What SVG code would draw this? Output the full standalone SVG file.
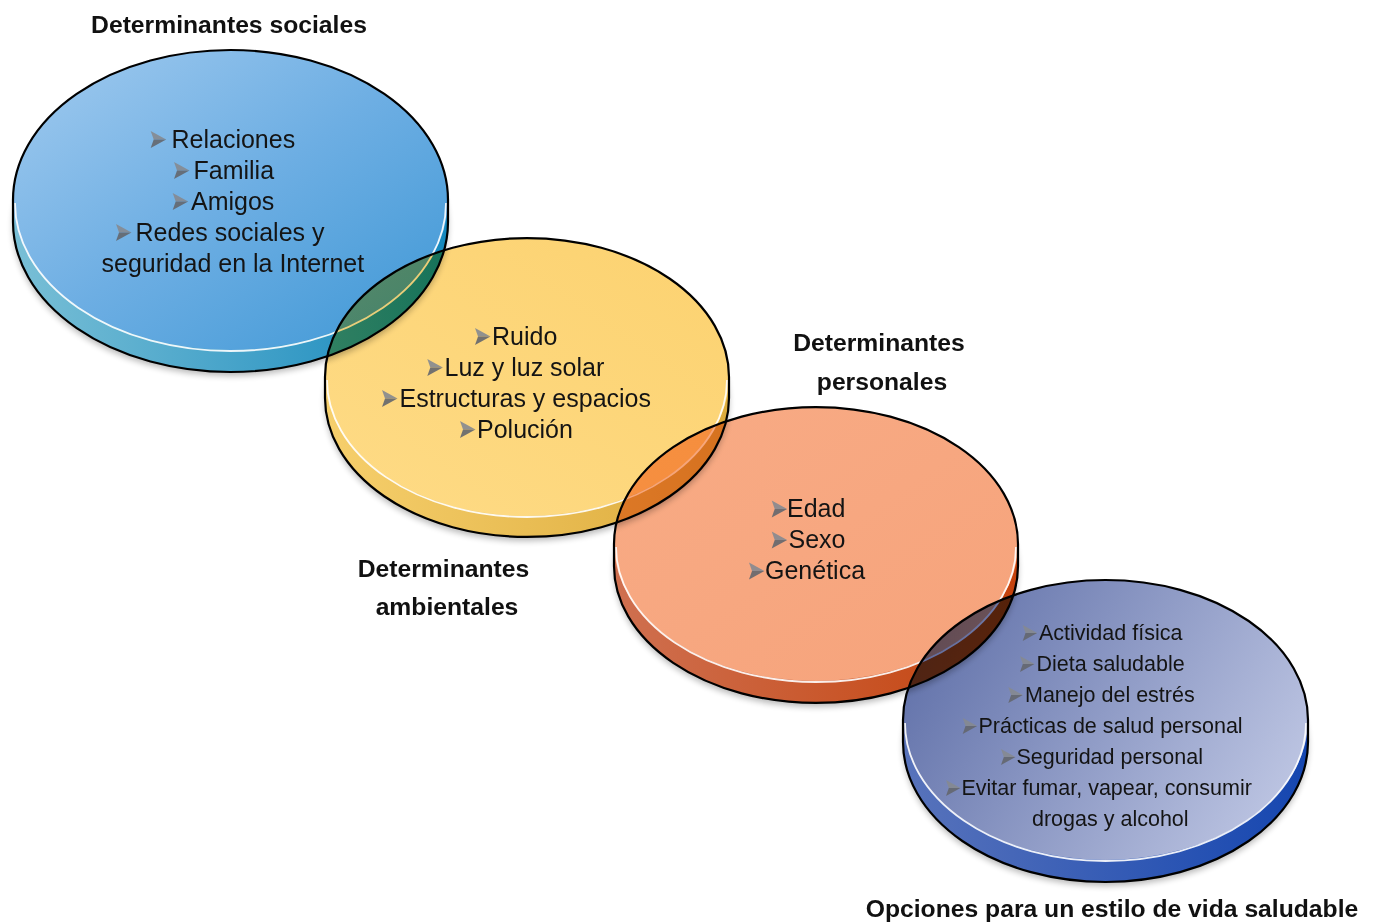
<svg xmlns="http://www.w3.org/2000/svg" xmlns:xlink="http://www.w3.org/1999/xlink" width="1380" height="922" viewBox="0 0 1380 922">
<style>
.t{font-family:"Liberation Sans",Arial,Helvetica,sans-serif;font-size:25px;fill:#141414}
.s{font-size:21.5px}
.lab{font-family:"Liberation Sans",Arial,Helvetica,sans-serif;font-size:24.7px;font-weight:bold;fill:#111}
.blend{mix-blend-mode:multiply}
.ol{fill:none;stroke:#000;stroke-width:2.2}
.hl{fill:none;stroke:#fff;stroke-width:1.8;opacity:0.9}
.sh{fill:#000;opacity:0.28;filter:url(#blur)}
</style>
<defs>
<filter id="blur" x="-10%" y="-20%" width="120%" height="140%"><feGaussianBlur stdDeviation="3"/></filter>
<linearGradient id="bTop" x1="0" y1="0" x2="1" y2="1"><stop offset="0" stop-color="#a2cbef"/><stop offset="0.5" stop-color="#6daee3"/><stop offset="1" stop-color="#3d97d5"/></linearGradient>
<linearGradient id="bSide" x1="0" y1="0" x2="1" y2="0"><stop offset="0" stop-color="#79bfd6"/><stop offset="1" stop-color="#1588bd"/></linearGradient>
<linearGradient id="yTop" x1="0" y1="1" x2="1" y2="0"><stop offset="0" stop-color="#fedb86"/><stop offset="1" stop-color="#fcd270"/></linearGradient>
<linearGradient id="ySide" x1="0" y1="0" x2="1" y2="0"><stop offset="0" stop-color="#f6cf6c"/><stop offset="1" stop-color="#dcab3c"/></linearGradient>
<linearGradient id="oTop" x1="0" y1="0" x2="1" y2="1"><stop offset="0" stop-color="#f8ab85"/><stop offset="1" stop-color="#f6a37b"/></linearGradient>
<linearGradient id="oSide" x1="0" y1="0" x2="1" y2="0"><stop offset="0" stop-color="#cf7050"/><stop offset="1" stop-color="#c4420c"/></linearGradient>
<linearGradient id="vTop" x1="0" y1="0.3" x2="1" y2="0.7"><stop offset="0" stop-color="#6272aa"/><stop offset="1" stop-color="#bec6e3"/></linearGradient>
<linearGradient id="vSide" x1="0" y1="0" x2="1" y2="0"><stop offset="0" stop-color="#5873bb"/><stop offset="1" stop-color="#1546b0"/></linearGradient>
<g id="bul" opacity="0.9"><polygon points="0,0 15.5,8.5 3,8.5" fill="#868a91"/><polygon points="3,8.5 15.5,8.5 0,17" fill="#64676e"/></g>
<g id="buls" opacity="0.9"><polygon points="0,0 14.5,8 2.8,8" fill="#868a91"/><polygon points="2.8,8 14.5,8 0,16" fill="#64676e"/></g>
</defs>
<rect width="1380" height="922" fill="#fff"/>

<g id="node-sociales">
<g class="blend">
<ellipse class="sh" cx="230.5" cy="226" rx="217.5" ry="150"/>
<path d="M13,200 A217.5,150 0 0 1 448,200 L448,222 A217.5,150 0 0 1 13,222 Z" fill="url(#bSide)"/>
<ellipse cx="230.5" cy="200" rx="217.5" ry="150" fill="url(#bTop)"/>
<path class="hl" d="M15,203 A215.5,148 0 0 0 446,203"/>
<path class="ol" d="M13,200 A217.5,150 0 0 1 448,200 L448,222 A217.5,150 0 0 1 13,222 Z"/>
</g>
<use href="#bul" x="150.7" y="131"/><text class="t" x="171.5" y="147.5">Relaciones</text>
<use href="#bul" x="174" y="162"/><text class="t" x="193.5" y="178.5">Familia</text>
<use href="#bul" x="172.7" y="193"/><text class="t" x="191" y="209.5">Amigos</text>
<use href="#bul" x="116" y="224"/><text class="t" x="135.5" y="240.5">Redes sociales y</text>
<text class="t" x="101.5" y="271.5">seguridad en la Internet</text>
</g>

<g id="node-ambientales">
<g class="blend">
<ellipse class="sh" cx="527" cy="402" rx="202" ry="139"/>
<path d="M325,377 A202,139 0 0 1 729,377 L729,398 A202,139 0 0 1 325,398 Z" fill="url(#ySide)"/>
<ellipse cx="527" cy="377" rx="202" ry="139" fill="url(#yTop)"/>
<path class="hl" d="M327,380 A200,137 0 0 0 727,380"/>
<path class="ol" d="M325,377 A202,139 0 0 1 729,377 L729,398 A202,139 0 0 1 325,398 Z"/>
</g>
<use href="#bul" x="475" y="328"/><text class="t" x="492" y="344.5">Ruido</text>
<use href="#bul" x="427.3" y="359"/><text class="t" x="444.5" y="375.5">Luz y luz solar</text>
<use href="#bul" x="382" y="390"/><text class="t" x="399.5" y="406.5">Estructuras y espacios</text>
<use href="#bul" x="460" y="421"/><text class="t" x="477" y="437.5">Polución</text>
</g>

<g id="node-personales">
<g class="blend">
<ellipse class="sh" cx="816" cy="570" rx="202" ry="137"/>
<path d="M614,544 A202,137 0 0 1 1018,544 L1018,566 A202,137 0 0 1 614,566 Z" fill="url(#oSide)"/>
<ellipse cx="816" cy="544" rx="202" ry="137" fill="url(#oTop)"/>
<path class="hl" d="M616,547 A200,135 0 0 0 1016,547"/>
<path class="ol" d="M614,544 A202,137 0 0 1 1018,544 L1018,566 A202,137 0 0 1 614,566 Z"/>
</g>
<use href="#bul" x="771.7" y="500.5"/><text class="t" x="787" y="517">Edad</text>
<use href="#bul" x="771.7" y="531.5"/><text class="t" x="788.5" y="548">Sexo</text>
<use href="#bul" x="749" y="562.5"/><text class="t" x="765" y="579">Genética</text>
</g>

<g id="node-opciones">
<g class="blend">
<ellipse class="sh" cx="1105.5" cy="746" rx="202.5" ry="140"/>
<path d="M903,720 A202.5,140 0 0 1 1308,720 L1308,742 A202.5,140 0 0 1 903,742 Z" fill="url(#vSide)"/>
<ellipse cx="1105.5" cy="720" rx="202.5" ry="140" fill="url(#vTop)"/>
<path class="hl" d="M905,723 A200.5,138 0 0 0 1306,723"/>
<path class="ol" d="M903,720 A202.5,140 0 0 1 1308,720 L1308,742 A202.5,140 0 0 1 903,742 Z"/>
</g>
<use href="#buls" x="1022.7" y="625"/><text class="t s" x="1039" y="640">Actividad física</text>
<use href="#buls" x="1020" y="656"/><text class="t s" x="1036.5" y="671">Dieta saludable</text>
<use href="#buls" x="1008.3" y="687"/><text class="t s" x="1025" y="702">Manejo del estrés</text>
<use href="#buls" x="962.7" y="718"/><text class="t s" x="978.5" y="733">Prácticas de salud personal</text>
<use href="#buls" x="1001" y="749"/><text class="t s" x="1016.5" y="764">Seguridad personal</text>
<use href="#buls" x="946" y="780"/><text class="t s" x="961.5" y="795">Evitar fumar, vapear, consumir</text>
<text class="t s" x="1032" y="826">drogas y alcohol</text>
</g>

<g id="labels">
<text class="lab" x="229" y="32.5" text-anchor="middle">Determinantes sociales</text>
<text class="lab" x="879" y="351" text-anchor="middle">Determinantes</text>
<text class="lab" x="882" y="390" text-anchor="middle">personales</text>
<text class="lab" x="443.5" y="577" text-anchor="middle">Determinantes</text>
<text class="lab" x="447" y="615" text-anchor="middle">ambientales</text>
<text class="lab" x="1112" y="917" text-anchor="middle">Opciones para un estilo de vida saludable</text>
</g>
<g id="connectors"/>
</svg>
